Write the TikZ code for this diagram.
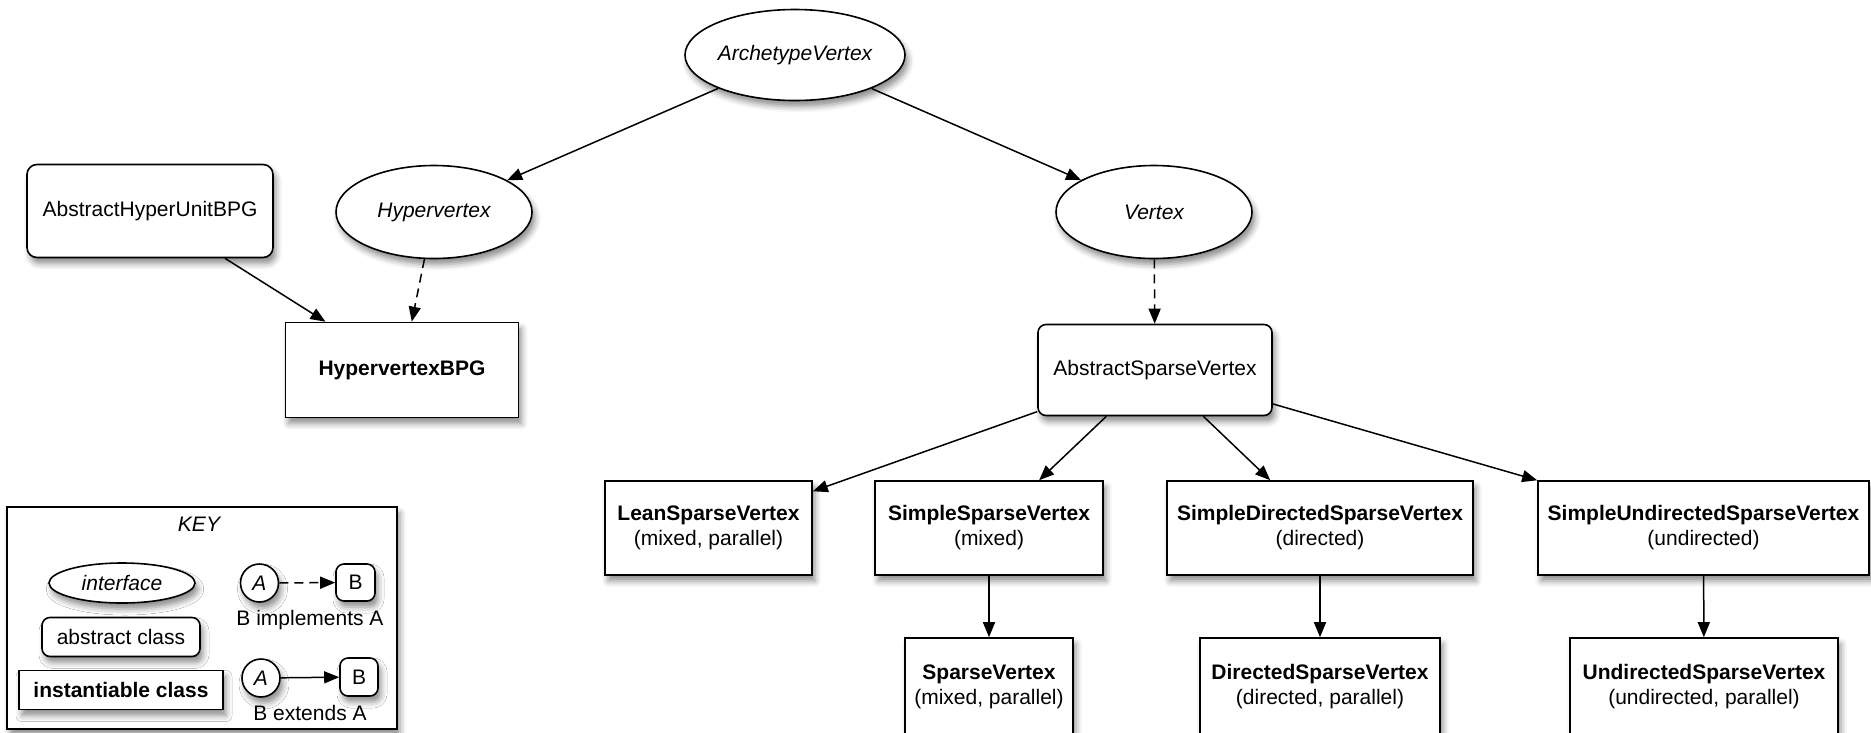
\documentclass[tikz,border=0pt]{standalone}
\usepackage{fontspec}
\setmainfont{Liberation Sans}
\usetikzlibrary{arrows.meta,shapes.geometric,shadows.blur}
\begin{document}
\begin{tikzpicture}[x=1pt,y=-1pt,
  every node/.style={font=\fontsize{21}{25}\selectfont, inner sep=0pt},
  dropsh/.style={blur shadow={shadow xshift=3pt,shadow yshift=-6pt,shadow blur radius=6pt,shadow opacity=45}},
  iface/.style={ellipse, draw, line width=1.6pt, fill=white, dropsh, font=\fontsize{21}{25}\selectfont\itshape},
  absclass/.style={rectangle, rounded corners=10pt, draw, line width=1.6pt, fill=white, dropsh},
  instclass/.style={rectangle, draw, line width=1.6pt, fill=white, dropsh, align=center},
  lvlone/.style={instclass, minimum height=94pt},
  lvltwo/.style={instclass, minimum height=98pt},
  ext/.style={-{Triangle[length=15pt,width=12pt]}, line width=1.5pt},
  impl/.style={ext, dash pattern=on 9pt off 6pt},
]
\useasboundingbox (0,0) rectangle (1871,732);
\clip (0,0) rectangle (1871,732);

% interfaces
\node[iface, minimum width=220pt, minimum height=91pt] (arch) at (795,55) {ArchetypeVertex};
\node[iface, minimum width=196pt, minimum height=93pt] (hyper) at (434,212) {Hypervertex};
\node[iface, minimum width=196pt, minimum height=93pt] (vert) at (1154,212) {Vertex};

% abstract classes
\node[absclass, minimum width=246pt, minimum height=93pt] (ahu) at (150,211) {AbstractHyperUnitBPG};
\node[absclass, rounded corners=8pt, minimum width=234pt, minimum height=91pt] (asv) at (1155,370) {AbstractSparseVertex};

% instantiable classes
\node[instclass, minimum width=233pt, minimum height=95pt, font=\fontsize{21}{25}\selectfont\bfseries] (hbpg) at (402,370) {HypervertexBPG};

\node[lvlone, minimum width=207pt] (lean) at (708.5,528) {\textbf{LeanSparseVertex}\\(mixed, parallel)};
\node[lvlone, minimum width=228pt] (simple) at (989,528) {\textbf{SimpleSparseVertex}\\(mixed)};
\node[lvlone, minimum width=306pt] (sdsv) at (1320,528) {\textbf{SimpleDirectedSparseVertex}\\(directed)};
\node[lvlone, minimum width=331pt] (susv) at (1703.5,528) {\textbf{SimpleUndirectedSparseVertex}\\(undirected)};

\node[lvltwo, minimum width=168pt] (sv) at (989,687) {\textbf{SparseVertex}\\(mixed, parallel)};
\node[lvltwo, minimum width=240pt] (dsv) at (1320,687) {\textbf{DirectedSparseVertex}\\(directed, parallel)};
\node[lvltwo, minimum width=268pt] (usv) at (1704,687) {\textbf{UndirectedSparseVertex}\\(undirected, parallel)};

% inheritance
\draw[ext] (arch) -- (hyper);
\draw[ext] (arch) -- (vert);
\draw[ext] (ahu) -- (hbpg);
\draw[impl] (hyper) -- (hbpg);
\draw[impl] (vert) -- (asv);
\draw[ext] (asv) -- (lean);
\draw[ext] (asv) -- (simple);
\draw[ext] (asv) -- (sdsv);
\draw[ext] (asv) -- (susv);
\draw[ext] (simple) -- (sv);
\draw[ext] (sdsv) -- (dsv);
\draw[ext] (susv) -- (usv);

% key
\node[draw, line width=1.3pt, fill=white, dropsh, minimum width=390pt, minimum height=222pt] (keybox) at (202,618) {};
\node[font=\fontsize{21}{25}\selectfont\itshape] (keytitle) at (199,524) {KEY};
\node[iface, minimum width=146pt, minimum height=40pt] (kiface) at (122,583) {interface};
\node[absclass, rounded corners=8pt, minimum width=158pt, minimum height=39pt] (kabs) at (121,637) {abstract class};
\node[instclass, minimum width=204pt, minimum height=39pt, font=\fontsize{21}{25}\selectfont\bfseries] (kinst) at (121,690) {instantiable class};
\node[circle, draw, line width=1.6pt, fill=white, dropsh, minimum size=38pt, font=\fontsize{21}{25}\selectfont\itshape] (ka1) at (259.5,583) {A};
\node[absclass, rounded corners=8pt, minimum width=39pt, minimum height=37pt] (kb1) at (355.5,582.5) {B};
\node[circle, draw, line width=1.6pt, fill=white, dropsh, minimum size=38pt, font=\fontsize{21}{25}\selectfont\itshape] (ka2) at (261,678) {A};
\node[absclass, rounded corners=8pt, minimum width=38pt, minimum height=38pt] (kb2) at (359,677) {B};
\draw[impl] (ka1) -- (kb1);
\draw[ext] (ka2) -- (kb2);
\node (kimpl) at (310,620) {B implements A};
\node (kext) at (310,713) {B extends A};
\end{tikzpicture}
\end{document}
